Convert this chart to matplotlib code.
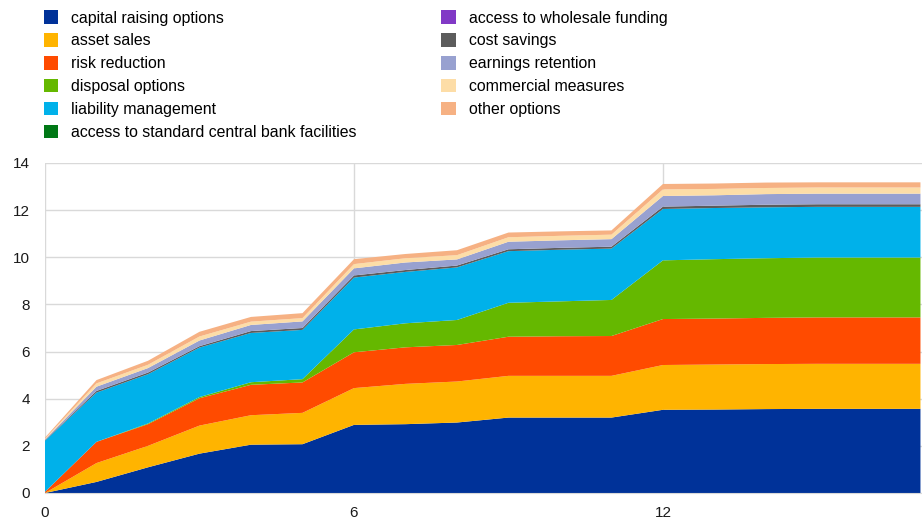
import numpy as np
import matplotlib
matplotlib.use("Agg")
import matplotlib.pyplot as plt
from matplotlib.patches import Patch

plt.rcParams['font.family'] = ['Liberation Sans', 'DejaVu Sans']

# months since start
months = list(range(18))

# contribution of each recovery option (stacked)
capital_raising = [0, 0.47, 1.09, 1.67, 2.05, 2.07, 2.89, 2.92, 2.99, 3.20, 3.20, 3.20, 3.53, 3.54, 3.56, 3.57, 3.57, 3.57]
asset_sales = [0, 0.80, 0.91, 1.19, 1.25, 1.33, 1.56, 1.71, 1.74, 1.77, 1.77, 1.77, 1.90, 1.91, 1.91, 1.91, 1.91, 1.91]
risk_reduction = [0.05, 0.90, 0.92, 1.16, 1.29, 1.29, 1.52, 1.55, 1.55, 1.66, 1.68, 1.69, 1.95, 1.95, 1.96, 1.97, 1.97, 1.97]
disposal = [0, 0, 0.03, 0.05, 0.11, 0.14, 0.97, 1.02, 1.06, 1.44, 1.48, 1.53, 2.49, 2.52, 2.53, 2.54, 2.54, 2.54]
liability_mgmt = [2.17, 2.09, 2.09, 2.10, 2.09, 2.09, 2.20, 2.18, 2.23, 2.19, 2.19, 2.18, 2.18, 2.17, 2.16, 2.15, 2.15, 2.15]
central_bank = [0] * 18
wholesale = [0] * 18
cost_savings = [0.02, 0.07, 0.07, 0.06, 0.08, 0.08, 0.09, 0.08, 0.08, 0.08, 0.08, 0.08, 0.10, 0.10, 0.11, 0.11, 0.11, 0.11]
earnings = [0.03, 0.18, 0.19, 0.24, 0.26, 0.28, 0.30, 0.32, 0.26, 0.32, 0.32, 0.32, 0.45, 0.44, 0.45, 0.45, 0.45, 0.45]
commercial = [0.03, 0.14, 0.14, 0.17, 0.14, 0.14, 0.18, 0.18, 0.18, 0.19, 0.19, 0.19, 0.28, 0.27, 0.26, 0.26, 0.26, 0.26]
other = [0.05, 0.14, 0.17, 0.20, 0.20, 0.21, 0.21, 0.18, 0.21, 0.20, 0.19, 0.18, 0.23, 0.23, 0.23, 0.22, 0.22, 0.22]

labels = ['capital raising options', 'asset sales', 'risk reduction', 'disposal options',
          'liability management', 'access to standard central bank facilities',
          'access to wholesale funding', 'cost savings', 'earnings retention',
          'commercial measures', 'other options']
colors = ['#003299', '#FFB400', '#FF4B00', '#65B800', '#00B1EA', '#007816',
          '#8139C6', '#5C5C5C', '#98A1D0', '#FDDDA7', '#F6B183']

series = [capital_raising, asset_sales, risk_reduction, disposal, liability_mgmt,
          central_bank, wholesale, cost_savings, earnings, commercial, other]

fig = plt.figure(figsize=(9.22, 5.22), dpi=100)
ax = fig.add_axes([45 / 922, 29 / 522, 877 / 922, 330 / 522])

ax.stackplot(months, *series, colors=colors, linewidth=0)

ax.set_xlim(0, 17.03)
ax.set_ylim(0, 14)
ax.set_yticks(range(0, 15, 2))
ax.set_xticks([0, 6, 12])
ax.grid(True, color='#D9D9D9', linewidth=1)
ax.set_axisbelow(True)
for s in ['top', 'right', 'left']:
    ax.spines[s].set_visible(False)
ax.spines['bottom'].set_color('#D9D9D9')
ax.tick_params(length=0, labelsize=11, colors='#1a1a1a')
ax.tick_params(axis='y', pad=11)
ax.tick_params(axis='x', pad=9.5)

handles = [Patch(facecolor=c, edgecolor='none') for c in colors]
fig.legend(handles, labels, ncol=2, loc='upper left', bbox_to_anchor=(34 / 922, 1.0 - 1 / 522),
           frameon=False, fontsize=11.4, handlelength=0.9, handleheight=0.9,
           handletextpad=0.85, labelspacing=0.5, columnspacing=5.35, borderaxespad=0.2)

fig.savefig('out.png', dpi=100)
